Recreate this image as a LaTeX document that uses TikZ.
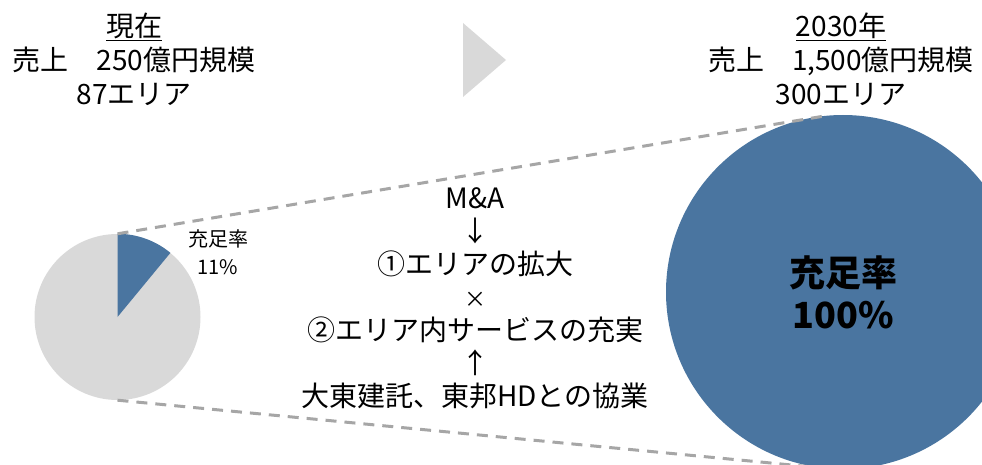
\documentclass[tikz,border=0pt]{standalone}
\usepackage{fontspec}
\setmainfont{Noto Sans CJK JP}
\definecolor{piegray}{HTML}{D9D9D9}
\definecolor{pieblue}{HTML}{4A75A0}
\definecolor{dashgray}{HTML}{A6A6A6}
\begin{document}
\begin{tikzpicture}[x=1pt,y=-1pt,
    txt/.style={align=center,inner sep=0pt,font=\fontsize{28}{34}\selectfont},
    zoomline/.style={draw=dashgray,line width=3pt,dash pattern=on 11pt off 8pt}]
        % canvas in pixel units
        \useasboundingbox (0,0) rectangle (982,465);
        \clip (0,0) rectangle (982,465);
        \node[txt] (nowtxt) at (134,59) {\underline{現在}\\売上　250億円規模\\87エリア};
        \node[txt] (futtxt) at (841,59) {\underline{2030年}\\売上　1,500億円規模\\300エリア};
        \fill[piegray] (463,23) -- (506,60) -- (463,97) -- cycle;
        \node[circle,fill=piegray,minimum size=166pt,inner sep=0pt] (now) at (117.5,317) {};
        \fill[pieblue] (now.center) -- (now.north) arc[start angle=90,end angle=50.4,radius=83pt] -- cycle;
        \node[txt,font=\fontsize{20}{28}\selectfont] (rate) at (218,252) {充足率\\11\%};
        \node[circle,fill=pieblue,minimum size=354pt,inner sep=0pt,align=center,
              font=\fontsize{36}{42}\bfseries\selectfont] (big) at (843,292) {充足率\\100\%};
        \draw[zoomline] (now.north) -- (big.95);
        \draw[zoomline] (now.south) -- (big.-97);
        \node[txt,font=\fontsize{28}{33}\selectfont] (plan) at (475,298)
            {M\&A\\↓\\①エリアの拡大\\{\fontsize{22}{33}\selectfont ×}\\②エリア内サービスの充実\\↑\\大東建託、東邦HDとの協業};
    \end{tikzpicture}
\end{document}
